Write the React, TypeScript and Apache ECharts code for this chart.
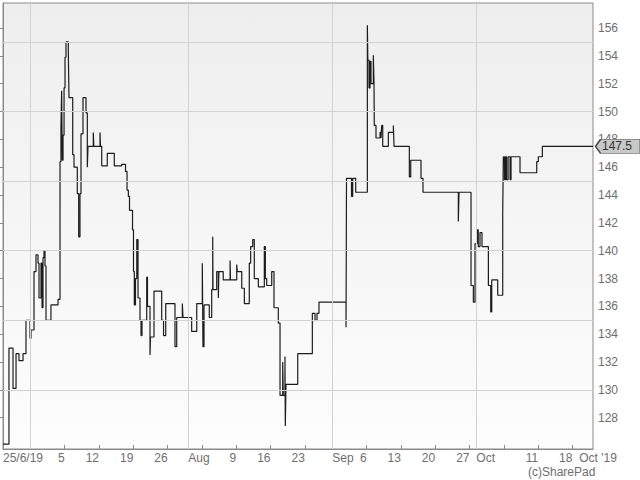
import React, { useEffect, useRef } from "react";
import * as echarts from "echarts";

// Price path: [trading-day index since 25/6/19, price]
const pricePath: [number, number][] = [
  [0, 126.1], [0.87, 133.0], [1.46, 130.1], [1.9, 132.6], [2.33, 132.1], [2.92, 132.6], [3.35, 135.0],
  [3.94, 133.7], [4.08, 134.3], [4.52, 138.5], [4.81, 139.7], [5.1, 139.1], [5.25, 136.6], [5.54, 139.1],
  [5.69, 135.9], [5.83, 139.5], [5.98, 140.0], [6.12, 138.9], [6.27, 135.0], [6.99, 136.1], [8.02, 136.5],
  [8.31, 146.4], [8.45, 149.0], [8.55, 151.5], [8.64, 146.5], [8.75, 148.3], [8.9, 151.7], [9.04, 153.9],
  [9.18, 155.0], [9.52, 154.3], [9.62, 151.0], [10.16, 146.9], [10.35, 146.0], [10.83, 144.1], [11.03, 141.0],
  [11.22, 144.1], [11.37, 148.4], [11.66, 151.0], [12.1, 149.9], [12.29, 146.0], [12.39, 147.5], [13.16, 148.5],
  [13.24, 147.5], [14.14, 148.5], [14.21, 147.5], [14.39, 146.1], [15.2, 147.0], [16.22, 146.1], [17.3, 146.2],
  [17.86, 145.7], [18.08, 144.35], [18.27, 143.9], [18.44, 142.9], [18.88, 141.5], [19.02, 138.5], [19.14, 136.1],
  [19.31, 138.0], [19.5, 140.8], [19.68, 136.6], [19.97, 135.0], [20.12, 133.9], [20.26, 135.0], [20.95, 138.1],
  [21.06, 136.0], [21.43, 132.5], [21.5, 133.8], [22.01, 137.1], [23.13, 135.0], [23.4, 133.9], [23.72, 136.2],
  [25.07, 133.1], [25.32, 135.2], [26.14, 136.2], [26.24, 135.2], [27.5, 134.2], [28.24, 136.2], [29.05, 139.1],
  [29.15, 133.1], [29.3, 136.1], [30.07, 135.2], [30.42, 137.2], [30.57, 141.0], [30.61, 137.2], [31.15, 138.5],
  [31.39, 136.6], [31.47, 138.5], [32.1, 137.9], [33.1, 139.3], [33.16, 137.9], [34.07, 139.0], [34.15, 138.5],
  [34.8, 137.3], [35.18, 136.2], [35.9, 139.1], [36.1, 140.3], [36.4, 140.8], [36.63, 138.0], [37.22, 137.4],
  [38.09, 140.3], [38.24, 138.0], [38.44, 137.5], [39.17, 138.5], [39.5, 135.9], [40.13, 134.8], [40.38, 129.6],
  [40.77, 132.0], [40.86, 129.6], [41.1, 132.4], [41.15, 127.4], [41.25, 130.4], [42.96, 132.6], [45.09, 135.5],
  [45.48, 135.0], [45.77, 135.5], [46.06, 136.3], [50.0, 134.5], [50.07, 145.2], [50.8, 143.9], [50.97, 145.2],
  [51.41, 144.2], [53.11, 156.2], [53.18, 153.7], [53.35, 151.7], [53.5, 153.6], [53.64, 152.0], [53.98, 154.05],
  [54.08, 152.1], [54.12, 149.0], [54.37, 148.1], [54.96, 148.5], [55.1, 148.1], [55.2, 149.0], [55.35, 147.5],
  [56.17, 148.5], [56.9, 149.0], [57.0, 147.5], [59.23, 145.3], [59.43, 146.5], [60.93, 145.2], [61.22, 144.2],
  [66.37, 142.1], [66.47, 144.2], [68.22, 137.5], [68.56, 136.3], [68.8, 140.5], [69.1, 141.5], [69.28, 140.3],
  [69.53, 141.3], [69.82, 140.3], [70.75, 137.5], [71.09, 135.6], [71.24, 137.9], [72.11, 136.8], [72.84, 142.6],
  [72.93, 146.75], [73.1, 145.1], [73.25, 146.75], [73.4, 145.1], [73.62, 146.75], [73.91, 145.1], [74.05, 146.75],
  [75.36, 145.6], [77.8, 146.4], [78.03, 146.75], [78.62, 147.5], [86, 147.5],
];

const lastPrice = 147.5;

// x axis (trading-day index)
const dayMin = 0;
const dayMax = 86;
const monthStartDays = [4, 27, 48, 69];
const weekTickDays = [4, 9, 14, 19, 24, 27, 29, 34, 39, 44, 48, 53, 58, 63, 68, 69, 73, 78, 83];
const weekLabelDays = [9, 14, 19, 24, 34, 39, 44, 53, 58, 63, 68, 78, 83];
const weekLabelTexts = ["5", "12", "19", "26", "9", "16", "23", "6", "13", "20", "27", "11", "18"];
const monthLabelDays = [0, 27, 48, 69, 84];
const monthLabelTexts = ["25/6/19", "Aug", "Sep", "Oct", "Oct '19"];

// y axis
const yMin = 125.75;
const yMax = 157.8;
const yLabelValues = [128, 130, 132, 134, 136, 138, 140, 142, 144, 146, 148, 150, 152, 154, 156];
const yGridValues = [130, 135, 140, 145, 150, 155];

const FONT = "'Liberation Sans', Arial, sans-serif";
const LABEL_COLOR = "#6e6e6e";

const lookup = (days: number[], texts: string[]) => (v: number) => {
  const i = days.findIndex((d) => Math.abs(d - v) < 1e-6);
  return i >= 0 ? texts[i] : "";
};

export default function App() {
  const ref = useRef<HTMLDivElement>(null);
  useEffect(() => {
    if (!ref.current) return;
    const chart = echarts.init(ref.current, null, { renderer: "svg" });
    const option: any = {
      animation: false,
      backgroundColor: "#ffffff",
      grid: {
        left: 3,
        right: 47,
        top: 3,
        bottom: 31,
        show: true,
        borderColor: "#8a8a8a",
        borderWidth: 1,
        backgroundColor: {
          type: "linear",
          x: 0,
          y: 0,
          x2: 0,
          y2: 1,
          colorStops: [
            { offset: 0, color: "#eeeeee" },
            { offset: 1, color: "#fdfdfd" },
          ],
        },
      },
      xAxis: [
        {
          type: "value",
          min: dayMin,
          max: dayMax,
          position: "bottom",
          axisLine: { show: true, lineStyle: { color: "#8a8a8a", width: 1 } },
          axisTick: {
            show: true,
            inside: true,
            length: 4,
            customValues: weekTickDays,
            lineStyle: { color: "#8a8a8a" },
          },
          axisLabel: {
            show: true,
            customValues: weekLabelDays,
            align: "right",
            margin: 3,
            color: LABEL_COLOR,
            fontSize: 12,
            fontFamily: FONT,
            formatter: lookup(weekLabelDays, weekLabelTexts),
          },
          splitLine: { show: false },
        },
        {
          type: "value",
          min: dayMin,
          max: dayMax,
          position: "bottom",
          axisLine: { show: false },
          axisTick: { show: false },
          axisLabel: {
            show: true,
            customValues: monthLabelDays,
            align: "left",
            margin: 3,
            color: LABEL_COLOR,
            fontSize: 12,
            fontFamily: FONT,
            formatter: lookup(monthLabelDays, monthLabelTexts),
          },
          splitLine: { show: false },
        },
      ],
      yAxis: {
        type: "value",
        position: "right",
        min: yMin,
        max: yMax,
        axisLine: { show: true, lineStyle: { color: "#8a8a8a", width: 1 } },
        axisTick: {
          show: true,
          inside: true,
          length: 4,
          customValues: yLabelValues,
          lineStyle: { color: "#8a8a8a" },
        },
        axisLabel: {
          show: true,
          customValues: yLabelValues,
          margin: 5,
          color: LABEL_COLOR,
          fontSize: 12,
          fontFamily: FONT,
        },
        splitLine: { show: false },
      },
      series: [
        {
          type: "line",
          z: 1,
          data: [],
          silent: true,
          markLine: {
            silent: true,
            symbol: ["none", "none"],
            label: { show: false },
            lineStyle: { color: "#d2d2d2", width: 1, type: "solid" },
            data: [
              ...yGridValues.map((v) => ({ yAxis: v })),
              ...monthStartDays.map((d) => ({ xAxis: d })),
            ],
          },
        },
        {
          type: "line",
          z: 3,
          step: "end",
          showSymbol: false,
          symbol: "none",
          data: pricePath,
          lineStyle: { color: "#1c1c1c", width: 1.2 },
          markPoint: {
            silent: true,
            symbol: "path://M0,7 L5,0 L45,0 L45,14 L5,14 Z",
            symbolKeepAspect: false,
            symbolSize: [45, 14],
            symbolOffset: [25, 0],
            itemStyle: { color: "#c8c8c8", borderColor: "#444444", borderWidth: 1 },
            label: {
              show: true,
              position: "inside",
              offset: [-1, 0],
              color: "#333333",
              fontSize: 12,
              fontFamily: FONT,
              formatter: () => String(lastPrice),
            },
            data: [{ coord: [dayMax, lastPrice] }],
          },
        },
      ],
      graphic: [
        {
          type: "text",
          left: 528,
          top: 466,
          style: { text: "(c)SharePad", fill: LABEL_COLOR, font: `12px ${FONT}` },
        },
      ],
    };
    chart.setOption(option);
    return () => chart.dispose();
  }, []);
  return (
    <div
      ref={ref}
      style={{ position: "fixed", left: 0, top: 0, width: 640, height: 480 }}
    />
  );
}
